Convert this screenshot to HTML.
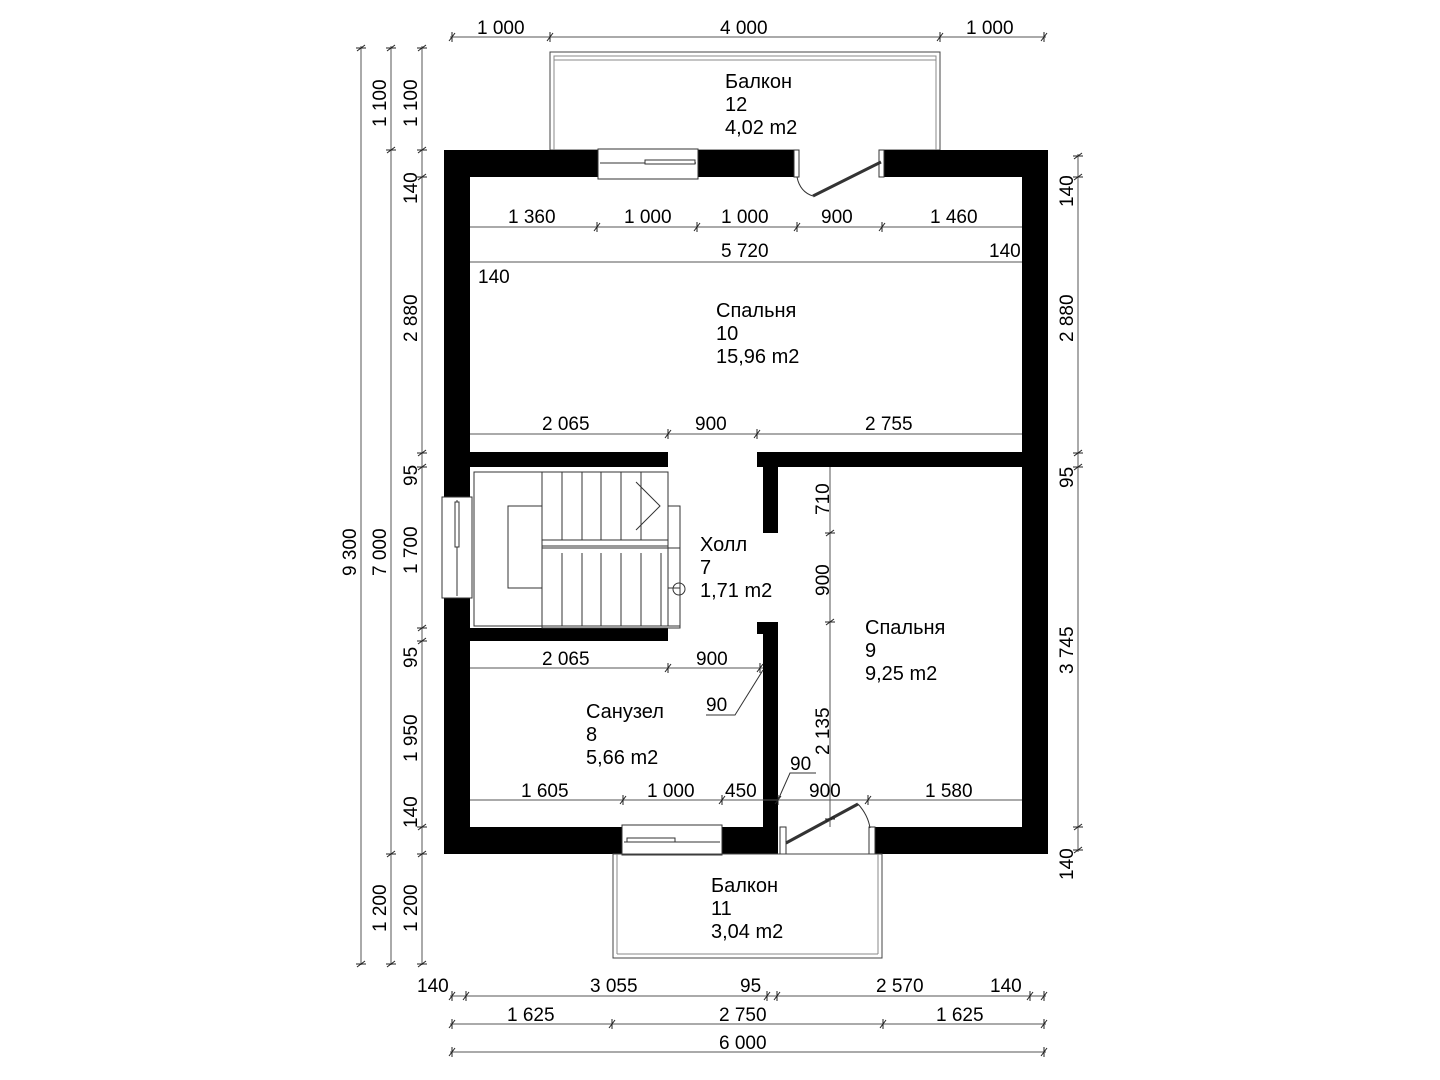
<!DOCTYPE html>
<html><head><meta charset="utf-8"><style>
html,body{margin:0;padding:0;background:#fff;}
svg{display:block}
text{font-family:"Liberation Sans",sans-serif;font-size:19px;fill:#000}
text.r{font-size:20px}
.d{stroke:#555;stroke-width:1;fill:none}
.t{stroke:#222;stroke-width:1}
.w{fill:#000}
.f{fill:#fff;stroke:#333;stroke-width:1}
.thin{stroke:#333;stroke-width:1;fill:none}
</style></head><body>
<svg width="1440" height="1080" viewBox="0 0 1440 1080" xmlns="http://www.w3.org/2000/svg">
<defs>
<g id="tk"><line x1="-3" y1="4" x2="3" y2="-4" class="t"/><line x1="0" y1="-5" x2="0" y2="5" class="t"/></g>
<g id="tv"><line x1="-4" y1="3" x2="4" y2="-3" class="t"/><line x1="-5" y1="0" x2="5" y2="0" class="t"/></g>
</defs>

<line x1="450" y1="37" x2="1046" y2="37" class="d"/>
<use href="#tk" x="452" y="37"/><use href="#tk" x="550" y="37"/><use href="#tk" x="940" y="37"/><use href="#tk" x="1044" y="37"/>
<text x="477" y="34">1 000</text><text x="720" y="34">4 000</text><text x="966" y="34">1 000</text>

<rect x="550" y="52" width="390" height="98" fill="none" stroke="#444" stroke-width="1"/>
<rect x="554" y="56" width="382" height="4" fill="none" stroke="#888" stroke-width="1"/>
<line x1="554" y1="60" x2="554" y2="150" stroke="#888"/><line x1="936" y1="60" x2="936" y2="150" stroke="#888"/>
<text class="r" x="725" y="88">Балкон</text><text class="r" x="725" y="111">12</text><text class="r" x="725" y="134">4,02 m2</text>

<rect class="w" x="444" y="150" width="604" height="27"/>
<rect class="w" x="444" y="150" width="26" height="704"/>
<rect class="w" x="1022" y="150" width="26" height="704"/>
<rect class="w" x="444" y="827" width="604" height="27"/>
<rect x="598" y="149" width="100" height="30" class="f"/>
<line x1="600" y1="163" x2="696" y2="163" class="thin"/><rect x="645" y="160" width="50" height="4" class="f"/>
<rect x="797" y="149" width="86" height="30" fill="#fff"/>
<rect x="794" y="150" width="5" height="27" class="f"/><rect x="879" y="150" width="5" height="27" class="f"/>
<line x1="881" y1="162" x2="813" y2="196" stroke="#333" stroke-width="3"/>
<path d="M797 177 Q800 192 813 196" class="thin"/>
<rect class="w" x="470" y="452" width="198" height="15"/>
<rect class="w" x="757" y="452" width="265" height="15"/>
<rect class="w" x="763" y="467" width="15" height="66"/>
<rect class="w" x="470" y="628" width="198" height="13"/>
<rect class="w" x="763" y="622" width="15" height="232"/>
<rect class="w" x="757" y="622" width="8" height="12"/>
<rect x="442" y="497" width="30" height="101" class="f"/>
<line x1="457" y1="500" x2="457" y2="596" class="thin"/><rect x="455" y="502" width="4" height="45" class="f"/>
<rect x="622" y="825" width="100" height="30" class="f"/>
<line x1="624" y1="842" x2="720" y2="842" class="thin"/><rect x="627" y="838" width="48" height="4" class="f"/>
<rect x="778" y="825" width="94" height="30" fill="#fff"/>
<rect x="780" y="827" width="6" height="27" class="f"/><rect x="869" y="827" width="6" height="27" class="f"/>
<line x1="786" y1="843" x2="858" y2="804" stroke="#333" stroke-width="3"/>
<path d="M858 804 Q868 815 870 828" class="thin"/>

<rect x="613" y="854" width="269" height="104" fill="none" stroke="#444"/>
<line x1="617" y1="854" x2="617" y2="954" stroke="#888"/><line x1="878" y1="854" x2="878" y2="954" stroke="#888"/>
<line x1="617" y1="954" x2="878" y2="954" stroke="#888"/>
<text class="r" x="711" y="892">Балкон</text><text class="r" x="711" y="915">11</text><text class="r" x="711" y="938">3,04 m2</text>

<rect x="474" y="472" width="194" height="154" class="thin"/>
<rect x="508" y="506" width="172" height="82" class="thin"/>
<rect x="542" y="472" width="126" height="154" fill="#fff" stroke="#333"/>
<g class="thin">
<line x1="562" y1="472" x2="562" y2="540"/><line x1="582" y1="472" x2="582" y2="540"/><line x1="601" y1="472" x2="601" y2="540"/><line x1="621" y1="472" x2="621" y2="540"/><line x1="641" y1="472" x2="641" y2="540"/>
<line x1="562" y1="553" x2="562" y2="626"/><line x1="582" y1="553" x2="582" y2="626"/><line x1="601" y1="553" x2="601" y2="626"/><line x1="621" y1="553" x2="621" y2="626"/><line x1="641" y1="553" x2="641" y2="626"/><line x1="661" y1="553" x2="661" y2="626"/>
<rect x="542" y="540" width="126" height="6"/>
<rect x="542" y="548" width="138" height="80"/>
<polyline points="636,482 660,506 636,530"/>
<circle cx="679" cy="589" r="6"/>
</g>
<line x1="474" y1="626" x2="680" y2="626" class="thin"/>

<line x1="470" y1="227" x2="1022" y2="227" class="d"/>
<use href="#tk" x="597" y="227"/><use href="#tk" x="697" y="227"/><use href="#tk" x="797" y="227"/><use href="#tk" x="882" y="227"/>
<text x="508" y="223">1 360</text><text x="624" y="223">1 000</text><text x="721" y="223">1 000</text><text x="821" y="223">900</text><text x="930" y="223">1 460</text>
<line x1="470" y1="262" x2="1022" y2="262" class="d"/>
<text x="721" y="257">5 720</text><text x="989" y="257">140</text><text x="478" y="283">140</text>
<text class="r" x="716" y="317">Спальня</text><text class="r" x="716" y="340">10</text><text class="r" x="716" y="363">15,96 m2</text>
<line x1="470" y1="434" x2="1022" y2="434" class="d"/>
<use href="#tk" x="668" y="434"/><use href="#tk" x="757" y="434"/>
<text x="542" y="430">2 065</text><text x="695" y="430">900</text><text x="865" y="430">2 755</text>

<text class="r" x="700" y="551">Холл</text><text class="r" x="700" y="574">7</text><text class="r" x="700" y="597">1,71 m2</text>

<line x1="830" y1="467" x2="830" y2="827" class="d"/>
<use href="#tv" x="830" y="533"/><use href="#tv" x="830" y="622"/><use href="#tv" x="830" y="819"/>
<text transform="translate(829,515) rotate(-90)">710</text>
<text transform="translate(829,596) rotate(-90)">900</text>
<text transform="translate(829,755) rotate(-90)">2 135</text>
<text class="r" x="865" y="634">Спальня</text><text class="r" x="865" y="657">9</text><text class="r" x="865" y="680">9,25 m2</text>

<line x1="470" y1="668" x2="763" y2="668" class="d"/>
<use href="#tk" x="668" y="668"/><use href="#tk" x="760" y="668"/>
<text x="542" y="665">2 065</text><text x="696" y="665">900</text>
<polyline points="706,715 735,715 763,670" class="thin"/><text x="706" y="711">90</text>
<text class="r" x="586" y="718">Санузел</text><text class="r" x="586" y="741">8</text><text class="r" x="586" y="764">5,66 m2</text>

<line x1="470" y1="800" x2="1022" y2="800" class="d"/>
<use href="#tk" x="623" y="800"/><use href="#tk" x="722" y="800"/><use href="#tk" x="778" y="800"/><use href="#tk" x="868" y="800"/>
<text x="521" y="797">1 605</text><text x="647" y="797">1 000</text><text x="725" y="797">450</text><text x="809" y="797">900</text><text x="925" y="797">1 580</text>
<polyline points="816,773 790,773 778,800" class="thin"/><text x="790" y="770">90</text>

<line x1="361" y1="46" x2="361" y2="965" class="d"/>
<line x1="391" y1="46" x2="391" y2="965" class="d"/>
<line x1="422" y1="46" x2="422" y2="965" class="d"/>
<use href="#tv" x="361" y="48"/><use href="#tv" x="361" y="964"/>
<use href="#tv" x="391" y="48"/><use href="#tv" x="391" y="150"/><use href="#tv" x="391" y="854"/><use href="#tv" x="391" y="964"/>
<use href="#tv" x="422" y="48"/><use href="#tv" x="422" y="150"/><use href="#tv" x="422" y="177"/><use href="#tv" x="422" y="453"/><use href="#tv" x="422" y="467"/><use href="#tv" x="422" y="628"/><use href="#tv" x="422" y="641"/><use href="#tv" x="422" y="827"/><use href="#tv" x="422" y="854"/><use href="#tv" x="422" y="964"/>
<text transform="translate(356,576) rotate(-90)">9 300</text>
<text transform="translate(386,576) rotate(-90)">7 000</text>
<text transform="translate(386,127) rotate(-90)">1 100</text>
<text transform="translate(386,932) rotate(-90)">1 200</text>
<text transform="translate(417,127) rotate(-90)">1 100</text>
<text transform="translate(417,204) rotate(-90)">140</text>
<text transform="translate(417,342) rotate(-90)">2 880</text>
<text transform="translate(417,486) rotate(-90)">95</text>
<text transform="translate(417,574) rotate(-90)">1 700</text>
<text transform="translate(417,668) rotate(-90)">95</text>
<text transform="translate(417,762) rotate(-90)">1 950</text>
<text transform="translate(417,828) rotate(-90)">140</text>
<text transform="translate(417,932) rotate(-90)">1 200</text>

<line x1="1078" y1="154" x2="1078" y2="852" class="d"/>
<use href="#tv" x="1078" y="156"/><use href="#tv" x="1078" y="177"/><use href="#tv" x="1078" y="453"/><use href="#tv" x="1078" y="467"/><use href="#tv" x="1078" y="827"/><use href="#tv" x="1078" y="850"/>
<text transform="translate(1073,207) rotate(-90)">140</text>
<text transform="translate(1073,342) rotate(-90)">2 880</text>
<text transform="translate(1073,488) rotate(-90)">95</text>
<text transform="translate(1073,674) rotate(-90)">3 745</text>
<text transform="translate(1073,880) rotate(-90)">140</text>

<line x1="450" y1="996" x2="1046" y2="996" class="d"/>
<use href="#tk" x="452" y="996"/><use href="#tk" x="466" y="996"/><use href="#tk" x="767" y="996"/><use href="#tk" x="777" y="996"/><use href="#tk" x="1030" y="996"/><use href="#tk" x="1044" y="996"/>
<text x="417" y="992">140</text><text x="590" y="992">3 055</text><text x="740" y="992">95</text><text x="876" y="992">2 570</text><text x="990" y="992">140</text>
<line x1="450" y1="1024" x2="1046" y2="1024" class="d"/>
<use href="#tk" x="452" y="1024"/><use href="#tk" x="612" y="1024"/><use href="#tk" x="883" y="1024"/><use href="#tk" x="1044" y="1024"/>
<text x="507" y="1021">1 625</text><text x="719" y="1021">2 750</text><text x="936" y="1021">1 625</text>
<line x1="450" y1="1052" x2="1046" y2="1052" class="d"/>
<use href="#tk" x="452" y="1052"/><use href="#tk" x="1044" y="1052"/>
<text x="719" y="1049">6 000</text>
</svg>
</body></html>
